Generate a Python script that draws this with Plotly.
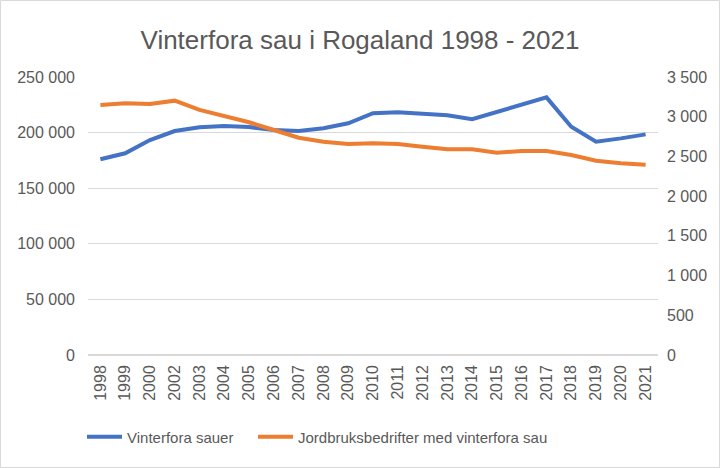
import plotly.graph_objects as go

# Years on the category axis (2001 is missing in the source chart)
years = ["1998", "1999", "2000", "2002", "2003", "2004", "2005", "2006", "2007",
         "2008", "2009", "2010", "2011", "2012", "2013", "2014", "2015", "2016",
         "2017", "2018", "2019", "2020", "2021"]

# Left axis: number of overwintered sheep
sauer = [176000, 181400, 193300, 201400, 204800, 206000, 205000, 202300, 201400,
         204000, 208400, 217400, 218300, 216500, 215600, 212000, 218800, 224800,
         231700, 205300, 191800, 194800, 198400]

# Right axis: farms with overwintered sheep
bedrifter = [3147, 3169, 3160, 3202, 3085, 3013, 2930, 2833, 2736,
             2686, 2656, 2665, 2656, 2623, 2590, 2590, 2547, 2568,
             2568, 2518, 2446, 2413, 2396]

FONT = "Liberation Sans"
GREY = "#595959"

fig = go.Figure()

fig.add_trace(go.Scatter(
    x=years, y=sauer, mode="lines", name="Vinterfora sauer",
    line=dict(color="#4472C4", width=4), legend="legend",
))
fig.add_trace(go.Scatter(
    x=years, y=bedrifter, mode="lines", name="Jordbruksbedrifter med vinterfora sau",
    line=dict(color="#ED7D31", width=4), yaxis="y2", legend="legend2",
))

# light frame around the whole chart area
pw, ph = 570, 278
fig.add_shape(type="rect", xref="paper", yref="paper",
              x0=-87.5 / pw, x1=1 + 61.5 / pw, y0=-112.5 / ph, y1=1 + 76.5 / ph,
              line=dict(color="#d9d9d9", width=1), layer="below")

legend_style = dict(orientation="h", xref="container", yref="container",
                    xanchor="left", y=1 - 437 / 468, yanchor="middle",
                    font=dict(size=15, color=GREY), itemwidth=35,
                    bgcolor="rgba(0,0,0,0)")

fig.update_layout(
    width=720, height=468,
    margin=dict(l=88, r=62, t=77, b=113, autoexpand=False),
    paper_bgcolor="white", plot_bgcolor="white",
    separators=", ",
    font=dict(family=FONT, color=GREY, size=16),
    title=dict(text="Vinterfora sau i Rogaland 1998 - 2021", x=0.5, xanchor="center",
               y=1 - 40 / 468, yanchor="middle", font=dict(size=26, color=GREY)),
    xaxis=dict(type="category", range=[-0.5, len(years) - 0.5], tickangle=-90,
               showgrid=False, showline=False, ticks="", automargin=False,
               ticklabelstandoff=6, tickfont=dict(size=16, color=GREY)),
    yaxis=dict(range=[0, 250000], dtick=50000, tickformat=",d", showgrid=True,
               gridcolor="#d9d9d9", gridwidth=1, zeroline=True, zerolinecolor="#d9d9d9",
               showline=False, ticks="", ticklabelstandoff=12, automargin=False,
               tickfont=dict(size=16, color=GREY)),
    yaxis2=dict(range=[0, 3500], dtick=500, tickformat=",d", overlaying="y",
                side="right", showgrid=False, zeroline=False, showline=False,
                ticks="", ticklabelstandoff=8, automargin=False,
                tickfont=dict(size=16, color=GREY)),
    legend=dict(legend_style, x=82 / 720),
    legend2=dict(legend_style, x=253 / 720),
    showlegend=True,
)

# drop the browser's default body margin so the figure sits at (0, 0)
fig.write_html("out.html", config={"displayModeBar": False},
               post_script="document.body.style.margin='0';")
